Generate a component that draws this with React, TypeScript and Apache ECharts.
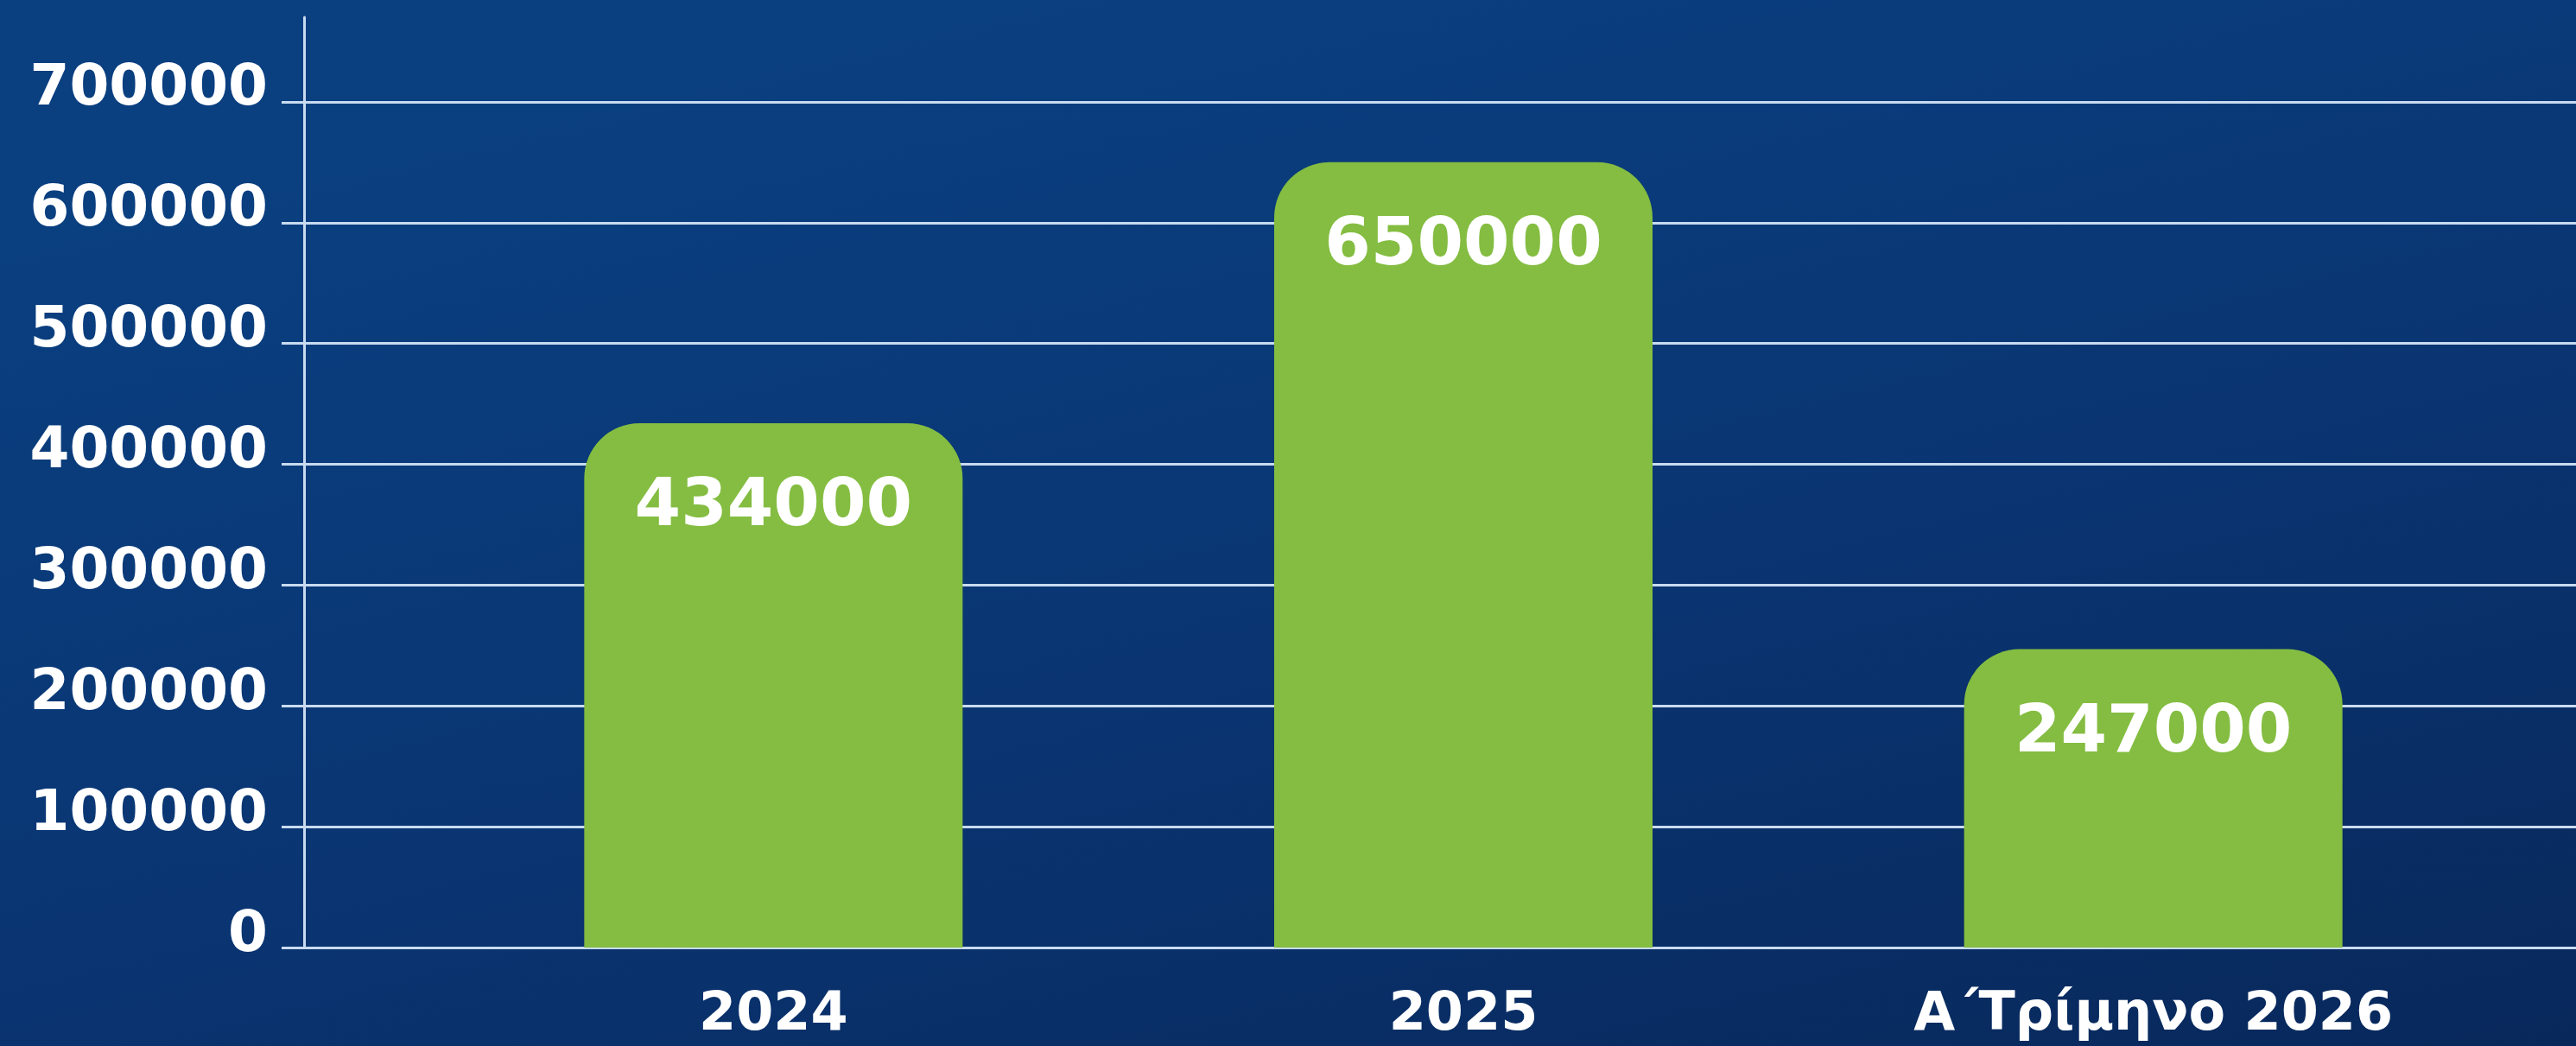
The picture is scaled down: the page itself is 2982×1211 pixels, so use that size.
import React, { useEffect, useRef } from "react";
import * as echarts from "echarts";

const categories = ["2024", "2025", "Α΄Τρίμηνο 2026"];
const values = [434000, 650000, 247000];
const yTickValues = [0, 100000, 200000, 300000, 400000, 500000, 600000, 700000];

export default function App() {
  const ref = useRef<HTMLDivElement>(null);

  useEffect(() => {
    document.body.style.margin = "0";
    document.body.style.overflow = "hidden";
    const chart = echarts.init(ref.current as HTMLDivElement, null, { renderer: "svg" });
    const font = "DejaVu Sans";
    const lineColor = "#c8dbf0";

    chart.setOption({
      animation: false,
      backgroundColor: {
        type: "linear",
        x: 0.4,
        y: 0,
        x2: 1,
        y2: 1,
        colorStops: [
          { offset: 0, color: "#0a3f80" },
          { offset: 0.5, color: "#0a3572" },
          { offset: 1, color: "#08285b" },
        ],
      },
      grid: [
        { left: 352, right: 0, top: 20, bottom: 114 },
        { left: 496, right: 90, top: 20, bottom: 114 },
      ],
      xAxis: [
        { gridIndex: 0, type: "value", min: 0, max: 1, show: false },
        {
          gridIndex: 1,
          type: "category",
          data: categories,
          axisLine: { show: false },
          axisTick: { show: false },
          splitLine: { show: false },
          axisLabel: {
            color: "#ffffff",
            fontFamily: font,
            fontWeight: "bold",
            fontSize: 62,
            margin: 42,
          },
        },
      ],
      yAxis: [
        {
          gridIndex: 0,
          type: "value",
          min: 0,
          max: 770000,
          interval: 100000,
          axisLine: { show: true, lineStyle: { color: lineColor, width: 3 } },
          axisTick: {
            show: true,
            length: 26,
            customValues: yTickValues,
            lineStyle: { color: lineColor, width: 3 },
          },
          splitLine: {
            show: true,
            lineStyle: { color: lineColor, width: 3 },
          },
          axisLabel: {
            customValues: yTickValues,
            formatter: (v: number) => String(v),
            color: "#ffffff",
            fontFamily: font,
            fontWeight: "bold",
            fontSize: 66,
            margin: 42,
            verticalAlign: "bottom",
            lineHeight: 38,
          },
        },
        { gridIndex: 1, type: "value", min: 0, max: 770000, show: false },
      ],
      series: [
        {
          type: "bar",
          xAxisIndex: 1,
          yAxisIndex: 1,
          data: values,
          barWidth: 438,
          itemStyle: { color: "#84bd41", borderRadius: [64, 64, 0, 0] },
          label: {
            show: true,
            position: ["50%", 92],
            align: "center",
            verticalAlign: "middle",
            color: "#ffffff",
            fontFamily: font,
            fontWeight: "bold",
            fontSize: 77,
          },
        },
      ],
    });

    return () => {
      chart.dispose();
    };
  }, []);

  return <div ref={ref} style={{ width: 2982, height: 1211 }} />;
}
